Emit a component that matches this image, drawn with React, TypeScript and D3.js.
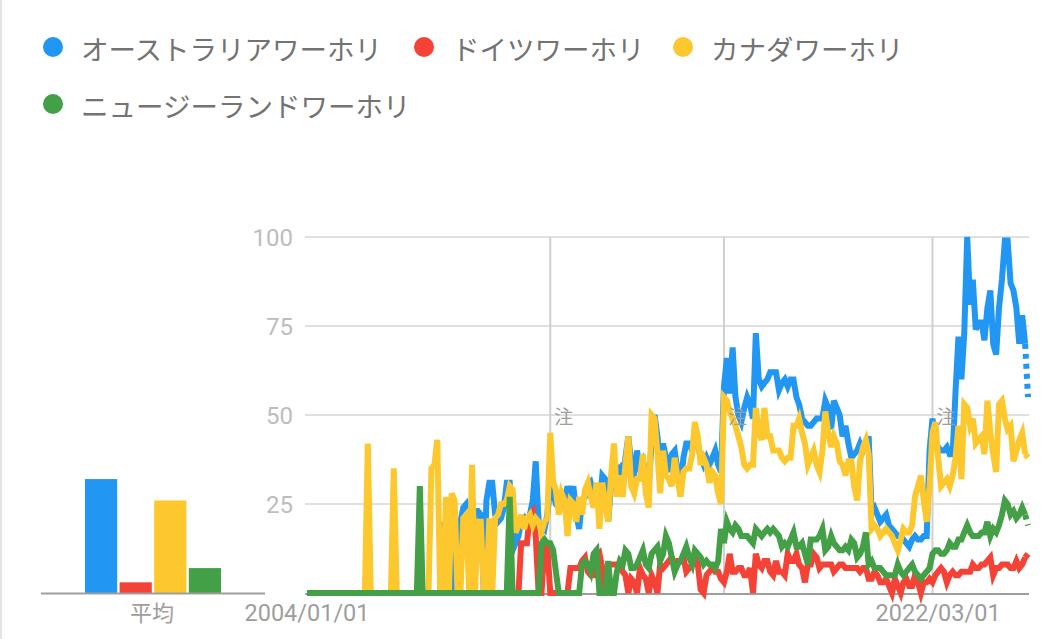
import * as d3 from 'd3';
import React from 'react';

// Google Trends style: monthly interest, 2004/01 .. 2024/10
const startYear = 2004;

const seriesNames = [
  'オーストラリアワーホリ',
  'ドイツワーホリ',
  'カナダワーホリ',
  'ニュージーランドワーホリ',
];
const seriesColors = ['#2196f3', '#f44336', '#fcc82e', '#43a047'];

// average bars on the left
const averages = [32, 3, 26, 7];

const australia = [
  0, 0, 0, 0, 0, 0, 0, 0, 0, 0, 0, 0,
  0, 0, 0, 0, 0, 0, 0, 0, 0, 0, 0, 0,
  0, 0, 0, 0, 0, 0, 0, 0, 0, 0, 0, 0,
  0, 0, 0, 0, 0, 0, 0, 0, 0, 0, 0, 20,
  0, 21, 20, 0, 18, 20, 24, 25, 22, 0, 23, 23,
  22, 0, 26, 31, 31, 22, 20, 21, 24, 31, 31, 20,
  14, 16, 20, 21, 19, 22, 26, 37, 20, 19, 18, 22,
  30, 28, 25, 24, 26, 25, 30, 27, 30, 22, 18, 26,
  27, 30, 31, 28, 29, 24, 33, 32, 20, 30, 38, 34,
  35, 30, 38, 44, 36, 34, 40, 35, 37, 34, 30, 42,
  50, 44, 36, 42, 38, 34, 39, 40, 34, 30, 38, 42,
  42, 40, 45, 42, 38, 36, 38, 36, 38, 40, 36, 34,
  58, 66, 56, 69, 55, 50, 48, 52, 55, 53, 49, 73,
  60, 58, 59, 60, 62, 62, 62, 57, 59, 60, 58, 60,
  60, 55, 53, 49, 48, 47, 47, 48, 49, 49, 49, 54,
  52, 46, 54, 52, 50, 44, 47, 42, 38, 39, 40, 42,
  40, 42, 44, 23, 24, 22, 20, 21, 22, 19, 18, 17,
  16, 16, 15, 14, 13, 15, 16, 15, 15, 16, 16, 40,
  49, 42, 41, 40, 40, 41, 39, 39, 57, 72, 60, 73,
  100, 81, 88, 74, 76, 76, 71, 80, 85, 70, 67, 80,
  88, 99, 99, 87, 85, 80, 70, 78, 70, 55,
];

const germany = [
  0, 0, 0, 0, 0, 0, 0, 0, 0, 0, 0, 0,
  0, 0, 0, 0, 0, 0, 0, 0, 0, 0, 0, 0,
  0, 0, 0, 0, 0, 0, 0, 0, 0, 0, 0, 0,
  0, 0, 0, 0, 0, 0, 0, 0, 0, 0, 0, 0,
  0, 0, 0, 0, 0, 0, 0, 0, 0, 0, 0, 0,
  0, 0, 0, 0, 0, 0, 0, 0, 0, 0, 0, 0,
  0, 0, 14, 14, 14, 22, 23, 16, 0, 0, 13, 13,
  0, 0, 0, 0, 0, 0, 0, 7, 7, 7, 7, 9,
  10, 6, 5, 5, 10, 11, 7, 0, 8, 8, 8, 8,
  8, 6, 5, 0, 4, 3, 0, 7, 5, 4, 0, 5,
  3, 0, 8, 7, 8, 9, 10, 8, 9, 9, 10, 6,
  7, 8, 10, 8, 1, 0, 5, 6, 7, 6, 6, 4,
  3, 6, 11, 6, 6, 7, 7, 5, 5, 7, 0, 11,
  8, 7, 9, 9, 6, 5, 9, 6, 6, 5, 11, 9,
  9, 11, 8, 7, 3, 8, 8, 11, 10, 7, 8, 8,
  8, 8, 6, 7, 8, 8, 7, 7, 7, 7, 7, 6,
  7, 7, 4, 4, 6, 5, 3, 3, 4, 2, 0, 4,
  2, 0, 3, 4, 2, 2, 5, 3, 0, 3, 3, 4,
  3, 5, 6, 7, 6, 3, 5, 6, 5, 5, 6, 6,
  6, 6, 8, 7, 7, 8, 8, 9, 10, 5, 7, 7,
  8, 8, 8, 7, 7, 9, 7, 8, 10, 11,
];

const canada = [
  0, 0, 0, 0, 0, 0, 0, 0, 0, 0, 0, 0,
  0, 0, 0, 0, 0, 0, 0, 0, 0, 42, 0, 0,
  0, 0, 0, 0, 0, 0, 35, 0, 0, 0, 0, 0,
  0, 0, 0, 0, 0, 0, 0, 35, 36, 43, 0, 0,
  27, 0, 28, 26, 0, 0, 21, 22, 0, 36, 0, 20,
  20, 0, 0, 21, 0, 21, 22, 25, 25, 26, 30, 29,
  17, 19, 22, 18, 21, 22, 19, 21, 20, 17, 20, 21,
  45, 31, 29, 22, 28, 26, 16, 26, 25, 20, 27, 22,
  29, 31, 27, 24, 31, 18, 31, 25, 20, 33, 42, 27,
  33, 27, 36, 44, 30, 28, 32, 32, 39, 28, 24, 50,
  49, 39, 28, 40, 33, 32, 30, 38, 32, 27, 34, 35,
  35, 39, 48, 44, 36, 38, 36, 31, 34, 33, 28, 25,
  55, 54, 51, 49, 47, 44, 41, 36, 35, 36, 36, 52,
  45, 43, 52, 44, 44, 40, 40, 40, 38, 37, 38, 38,
  47, 47, 49, 45, 42, 36, 38, 40, 36, 34, 40, 51,
  45, 41, 44, 42, 37, 36, 33, 37, 37, 30, 26, 37,
  41, 43, 39, 18, 19, 18, 16, 17, 18, 17, 16, 14,
  12, 15, 18, 17, 17, 19, 27, 30, 33, 26, 20, 30,
  45, 48, 38, 30, 31, 32, 30, 33, 38, 47, 32, 53,
  52, 47, 49, 42, 43, 44, 39, 54, 45, 39, 34, 53,
  54, 49, 46, 47, 37, 40, 43, 45, 39, 38,
];

const newZealand = [
  0, 0, 0, 0, 0, 0, 0, 0, 0, 0, 0, 0,
  0, 0, 0, 0, 0, 0, 0, 0, 0, 0, 0, 0,
  0, 0, 0, 0, 0, 0, 0, 0, 0, 0, 0, 0,
  0, 0, 0, 30, 0, 0, 0, 0, 0, 0, 0, 0,
  0, 0, 0, 0, 0, 0, 0, 0, 0, 0, 0, 0,
  0, 0, 0, 0, 0, 0, 0, 0, 0, 0, 27, 0,
  0, 0, 0, 0, 0, 0, 0, 0, 0, 14, 15, 14,
  14, 12, 6, 0, 0, 0, 0, 0, 0, 0, 0, 8,
  9, 8, 6, 11, 12, 0, 0, 0, 9, 0, 0, 6,
  9, 8, 12, 11, 7, 7, 8, 10, 12, 8, 7, 11,
  12, 13, 9, 11, 16, 14, 10, 6, 8, 9, 11, 13,
  10, 8, 12, 11, 10, 8, 9, 8, 8, 7, 9, 18,
  14, 20, 18, 17, 19, 18, 16, 16, 16, 15, 14, 18,
  17, 16, 17, 18, 17, 18, 17, 16, 13, 14, 13, 15,
  17, 13, 13, 14, 11, 8, 15, 15, 15, 16, 18, 12,
  13, 16, 14, 13, 12, 12, 13, 12, 15, 14, 10, 11,
  13, 17, 8, 9, 7, 7, 7, 6, 5, 5, 5, 5,
  8, 6, 5, 6, 7, 8, 6, 5, 4, 5, 6, 7,
  11, 12, 12, 11, 11, 12, 14, 13, 13, 15, 15, 17,
  19, 17, 16, 16, 16, 17, 17, 20, 16, 18, 17, 19,
  22, 26, 25, 22, 23, 21, 22, 24, 22, 19,
];

const yTicks = [25, 50, 75, 100];
const noteDates = ['2011-01-01', '2016-01-01', '2022-01-01'];
const xLabels = [
  { date: '2004-01-01', text: '2004/01/01' },
  { date: '2022-03-01', text: '2022/03/01' },
];

const parseDate = d3.timeParse('%Y-%m-%d');
const numFont = 'Roboto, "Noto Sans", sans-serif';
const jpFont = '"Noto Sans CJK JP", "Noto Sans", sans-serif';

export default function App() {
  const width = 1045;
  const height = 639;
  const plotLeft = 307;
  const plotRight = 1028;
  const plotTop = 237;
  const plotBottom = 593;

  const allSeries = [australia, germany, canada, newZealand];
  const dates = australia.map((_, i) => new Date(startYear, i, 1));

  const x = d3
    .scaleTime()
    .domain([dates[0], dates[dates.length - 1]])
    .range([plotLeft, plotRight]);
  const y = d3.scaleLinear().domain([0, 100]).range([plotBottom, plotTop]);

  const barX = d3
    .scaleBand<string>()
    .domain(seriesNames)
    .range([85, 221])
    .paddingInner(0.07);

  const lineGen = d3
    .line<[Date, number]>()
    .x((d) => x(d[0]))
    .y((d) => y(d[1]));

  const legendPos = [
    { cx: 53, cy: 47 },
    { cx: 424, cy: 47 },
    { cx: 683, cy: 47 },
    { cx: 53, cy: 104 },
  ];

  return (
    <div style={{ position: 'fixed', left: 0, top: 0, width, height, background: '#fff' }}>
      <svg width={width} height={height}>
        <rect width={width} height={height} fill="#fff" />
        <line x1={1} x2={1} y1={0} y2={height} stroke="#e3e3e3" strokeWidth={2} />

        {/* legend */}
        {seriesNames.map((name, i) => (
          <g key={name}>
            <circle cx={legendPos[i].cx} cy={legendPos[i].cy} r={10} fill={seriesColors[i]} />
            <text
              x={legendPos[i].cx + 28}
              y={legendPos[i].cy + 13}
              fontFamily={jpFont}
              fontSize={27.5}
              fill="#737373"
            >
              {name}
            </text>
          </g>
        ))}

        {/* average bars */}
        {seriesNames.map((name, i) => (
          <rect
            key={name}
            x={barX(name)}
            y={y(averages[i])}
            width={barX.bandwidth()}
            height={plotBottom - y(averages[i])}
            fill={seriesColors[i]}
          />
        ))}
        <line x1={41} x2={265} y1={plotBottom + 0.5} y2={plotBottom + 0.5} stroke="#9e9e9e" strokeWidth={2} />
        <text x={152} y={621} textAnchor="middle" fontFamily={jpFont} fontSize={22} fill="#9e9e9e">
          平均
        </text>

        {/* grid */}
        {yTicks.map((t) => (
          <g key={t}>
            <line x1={305} x2={plotRight + 1} y1={y(t)} y2={y(t)} stroke="#e0e0e0" strokeWidth={2} />
            <text
              x={293}
              y={y(t)}
              dy="0.36em"
              textAnchor="end"
              fontFamily={numFont}
              fontSize={24}
              fill="#bdbdbd"
            >
              {t}
            </text>
          </g>
        ))}
        <line x1={305} x2={plotRight + 1} y1={plotBottom + 1} y2={plotBottom + 1} stroke="#9e9e9e" strokeWidth={2} />

        {/* annotation lines */}
        {noteDates.map((d) => (
          <line
            key={d}
            x1={x(parseDate(d)!)}
            x2={x(parseDate(d)!)}
            y1={plotTop}
            y2={plotBottom}
            stroke="#d0d0d0"
            strokeWidth={2}
          />
        ))}

        {/* series */}
        {allSeries.map((values, s) => {
          const pts = values.map((v, i) => [dates[i], v] as [Date, number]);
          return (
            <g key={s} fill="none" stroke={seriesColors[s]} strokeWidth={6}>
              <path d={lineGen(pts.slice(0, -1)) || ''} />
              <path d={lineGen(pts.slice(-2)) || ''} strokeDasharray="5,5" />
            </g>
          );
        })}

        {noteDates.map((d) => (
          <text
            key={d}
            x={x(parseDate(d)!) + 4}
            y={424}
            fontFamily={jpFont}
            fontSize={19}
            fill="#9e9e9e"
          >
            注
          </text>
        ))}

        {/* x labels */}
        {xLabels.map((l) => (
          <text
            key={l.text}
            x={x(parseDate(l.date)!)}
            y={621}
            textAnchor="middle"
            fontFamily={numFont}
            fontSize={23.5}
            fill="#9e9e9e"
          >
            {l.text}
          </text>
        ))}
      </svg>
    </div>
  );
}
